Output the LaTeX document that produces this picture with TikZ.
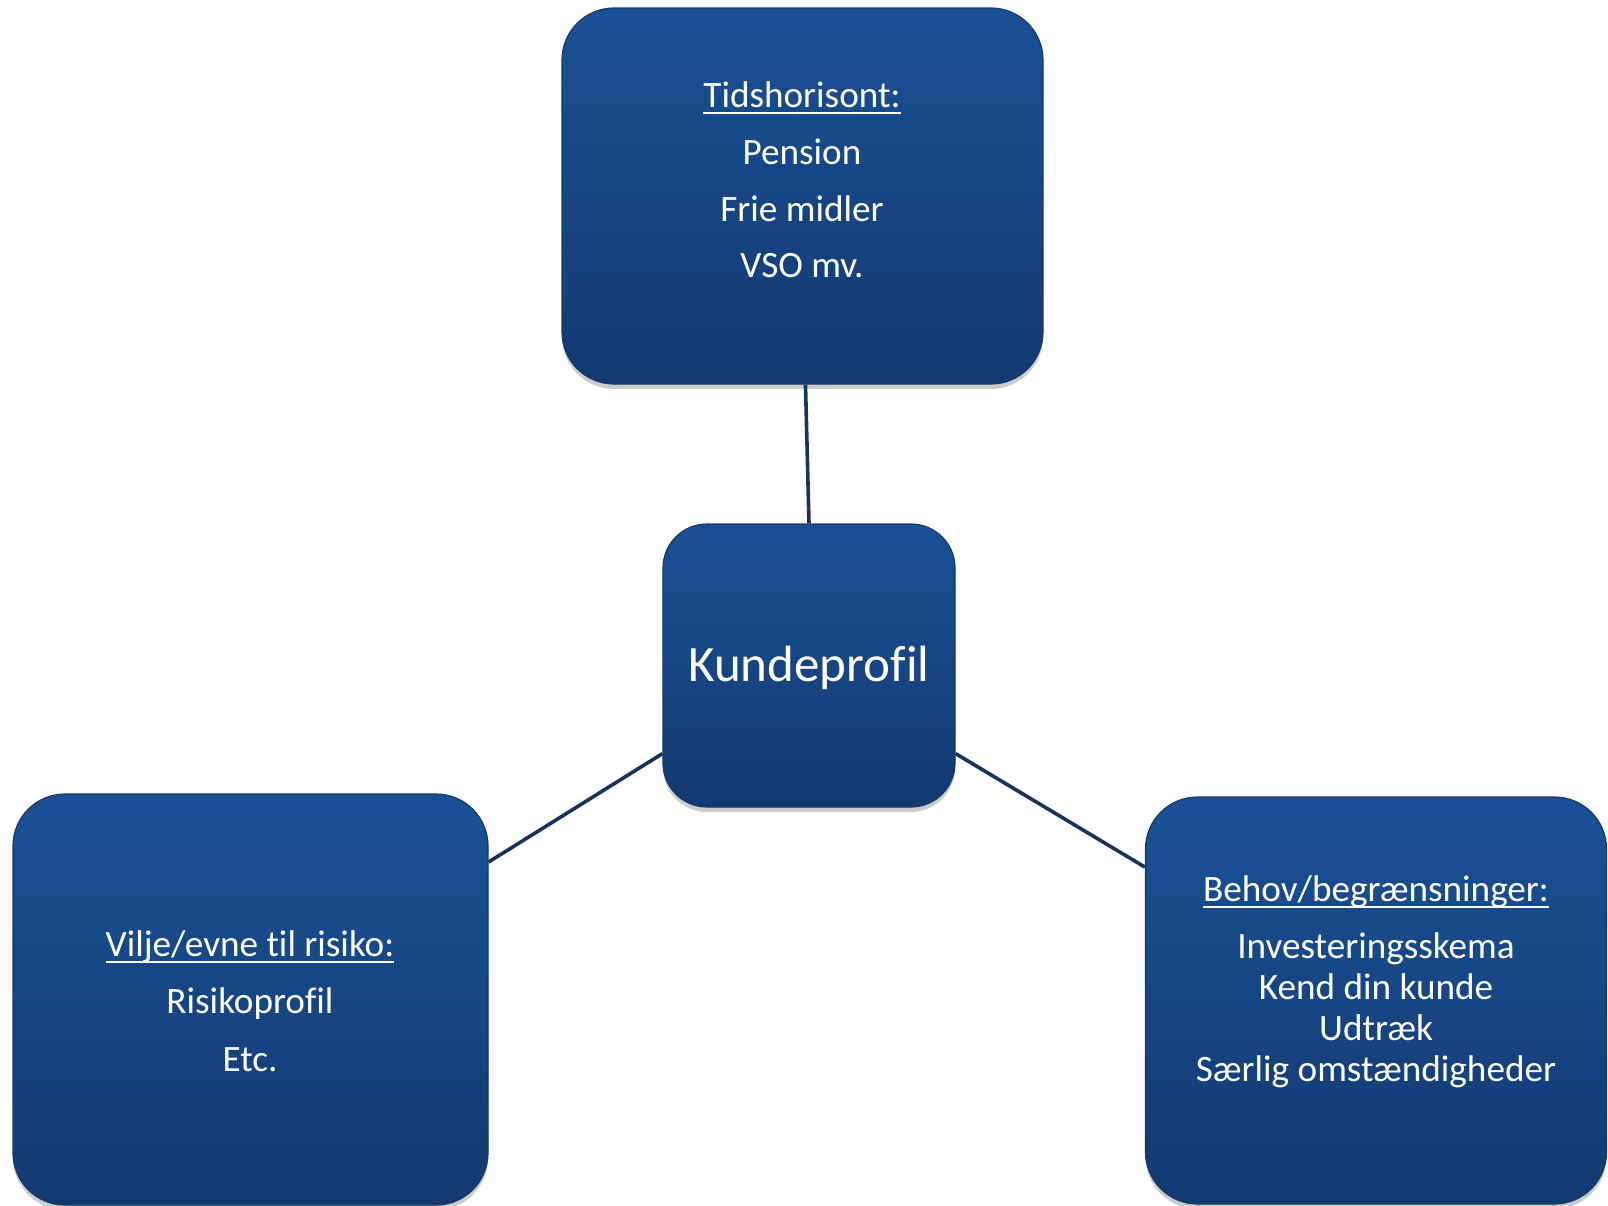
\documentclass[tikz,border=0pt]{standalone}
\usepackage{fontspec}
\setmainfont[Ligatures=NoCommon,RawFeature={-liga;-clig}]{Carlito}
\usetikzlibrary{shadows}
\definecolor{boxtop}{RGB}{26,81,150}
\definecolor{boxbot}{RGB}{19,58,112}
\definecolor{boxedge}{RGB}{22,56,104}
\definecolor{linkcol}{RGB}{24,52,94}
\newcommand\myul[1]{\setbox0\hbox{#1}\leavevmode\rlap{\rule[-3.2pt]{\wd0}{0.9pt}}\box0}
\tikzset{
  bluebox/.style={draw=boxedge, line width=0.6pt, top color=boxtop, bottom color=boxbot,
    rounded corners=26pt, inner sep=0pt,
    drop shadow={shadow xshift=0pt, shadow yshift=-2.5pt, opacity=0.2, fill=black}},
  boxtxt/.style={text=white, align=center, inner sep=0pt, font=\fontsize{18.6}{20.5}\selectfont},
  link/.style={draw=linkcol, line width=1.8pt}
}
\begin{document}
\begin{tikzpicture}[x=0.5pt,y=-0.5pt]
\useasboundingbox (0,0) rectangle (1608,1206);
\node[bluebox, minimum width=240.5pt, minimum height=188pt] (top) at (802.5,196) {};
\node[bluebox, minimum width=146pt, minimum height=141.5pt, rounded corners=22pt] (ctr) at (809,665.5) {};
\node[bluebox, minimum width=237.5pt, minimum height=205.5pt] (left) at (250.5,999.5) {};
\node[bluebox, minimum width=230.5pt, minimum height=203.5pt] (right) at (1376,1000.5) {};
\draw[link] ([xshift=1.5pt]top.south) -- (ctr.north);
\draw[link] (left.30.7) -- (ctr.211.2);
\draw[link] (ctr.329.6) -- (right.150.2);
\node[boxtxt] (toptxt) at (802,180) {\myul{Tidshorisont:}\\[7.9pt] Pension\\[7.9pt] Frie midler\\[7.9pt] VSO mv.};
\node[boxtxt, font=\fontsize{25.5}{30}\selectfont] (ctrtxt) at (809,668) {Kundeprof\kern0pt il};
\node[boxtxt] (lefttxt) at (250,1001) {\myul{Vilje/evne til risiko:}\\[8.2pt] Risikoprof\kern0pt il\\[8.2pt] Etc.};
\node[boxtxt] (righttxt) at (1376,982) {\myul{Behov/begrænsninger:}\\[8.2pt] Investeringsskema\\ Kend din kunde\\ Udtræk\\ Særlig omstændigheder};
\end{tikzpicture}
\end{document}
